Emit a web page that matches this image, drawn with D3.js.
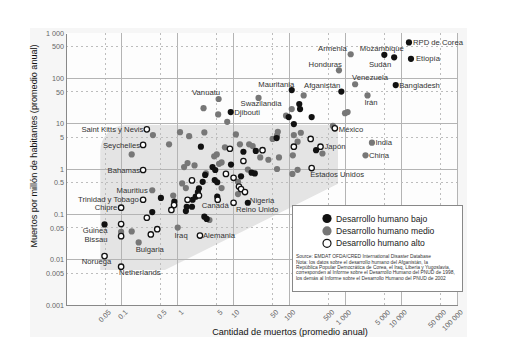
<!DOCTYPE html>
<html>
<head>
<meta charset="utf-8">
<script src="https://cdn.jsdelivr.net/npm/d3@7"></script>
<style>
  body { margin: 0; background: #fff; }
  svg { display: block; font-family: "Liberation Sans", Arial, sans-serif; }
</style>
</head>
<body>
<svg id="chart" width="517" height="353"></svg>
<script>
// niveles de desarrollo humano (leyenda)
const levels = ["Desarrollo humano bajo", "Desarrollo humano medio", "Desarrollo humano alto"];

// países con etiqueta: nombre, nivel (0 bajo, 1 medio, 2 alto), muertos/año, muertos por millón/año
const namedCountries = ["RPD de Corea", "Etiopía", "Mozambique", "Sudán", "Armenia", "Honduras",
  "Venezuela", "Bangladesh", "Irán", "Mauritania", "Afganistán", "Vanuatu", "Swazilandia",
  "Djibouti", "México", "India", "China", "Japón", "Estados Unidos", "Saint Kitts y Nevis",
  "Seychelles", "Bahamas", "Mauritius", "Trinidad y Tobago", "Chipre", "Guinea\nBissau",
  "Bulgaria", "Noruega", "Netherlands", "Iraq", "Alemania", "Canadá", "Reino Unido", "Nigeria"];
const namedLevel = [0, 0, 0, 0, 1, 1, 1, 0, 1, 0, 0, 1, 1, 0, 2, 1, 1, 2, 2, 2, 2, 2, 1, 2, 2, 0,
  1, 2, 2, 1, 2, 2, 2, 0];
const namedDeaths = [13800, 15000, 5000, 7500, 1250, 770, 1500, 8000, 2500, 110, 850, 5.4, 28,
  8.9, 650, 3000, 2300, 360, 250, 0.28, 0.24, 0.24, 0.35, 0.24, 0.097, 0.049, 0.2, 0.049, 0.097,
  1.0, 2.5, 5.2, 10, 18];
const namedRate = [620, 270, 330, 290, 340, 150, 74, 71, 42, 55, 51, 35, 37, 18, 7.9, 3.8, 2.0,
  3.1, 1.05, 7.5, 3.4, 0.95, 0.34, 0.21, 0.14, 0.06, 0.024, 0.012, 0.007, 0.051, 0.034, 0.21,
  0.18, 0.18];

// resto de países, [muertos, muertos por millón]
const lowOther = [[150, 27], [155, 21], [97, 14], [250, 14], [120, 9.8], [59, 4.8], [2.6, 3.1],
  [15, 2.4], [25, 2.5], [300, 2.6], [4.2, 1.1], [4.7, 0.95], [9.0, 1.25], [21, 0.83], [24, 0.8],
  [13.6, 0.69], [2.8, 0.52], [4.6, 0.57], [5.1, 0.51], [2.4, 0.375], [2.3, 0.31], [2.1, 0.245],
  [1.85, 0.21], [0.5, 0.23], [0.87, 0.19], [1.45, 0.147], [1.4, 0.118], [1.8, 0.147],
  [0.35, 0.112], [3.0, 0.089], [3.3, 0.079], [5.1, 0.245], [3.1, 0.74]];
const midOther = [[180, 42], [2.9, 22], [5.3, 16], [7.7, 11], [110, 21], [87, 15], [600, 8.9],
  [990, 17], [1100, 18], [1.1, 6.5], [1.6, 5.3], [3.0, 6.4], [11, 5.8], [62, 6.6], [60, 5.5],
  [50, 4.6], [120, 5.6], [160, 6.3], [140, 4.0], [7.0, 3.0], [13, 3.5], [19, 3.5], [22, 3.2],
  [30, 1.8], [42, 1.6], [65, 1.8], [115, 2.0], [390, 2.2], [4.5, 1.9], [5.0, 2.1], [1.3, 1.1],
  [1.5, 1.35], [2.0, 1.2], [5.5, 1.3], [6.1, 1.4], [60, 1.0], [140, 0.96], [113, 0.78],
  [3.2, 0.8], [0.36, 5.6], [0.15, 2.1], [0.7, 3.5], [1.2, 0.48], [1.4, 0.38], [0.83, 0.26],
  [6.1, 0.38], [12, 0.28], [18, 0.97], [12, 0.52], [3.7, 0.075], [0.15, 0.042], [0.097, 0.041]];
const highOther = [[240, 4.6], [8.6, 2.8], [33, 2.6], [120, 3.1], [15, 1.5], [7.3, 0.78],
  [1.8, 0.56], [10, 0.64], [12.5, 0.41], [13.6, 0.36], [16, 0.31], [2.4, 0.26], [1.5, 0.21],
  [0.86, 0.16], [0.77, 0.125], [0.28, 0.084], [0.097, 0.061], [0.097, 0.033], [0.43, 0.047],
  [0.33, 0.036]];

// zona sombreada (muertos, muertos por millón)
const bandCorners = [[0.041, 0.0059], [0.041, 9.3], [740, 9.3], [740, 0.47], [0.59, 0.0059]];

const xTickValues = [0.05, 0.1, 0.5, 1, 5, 10, 50, 100, 500, 1000, 5000, 10000, 50000, 100000];
const yTickValues = [0.001, 0.005, 0.01, 0.05, 0.1, 0.5, 1, 5, 10, 50, 100, 500, 1000];
const xDecades = [0.1, 1, 10, 100, 1000, 10000, 100000];
const xFives = [0.05, 0.5, 5, 50, 500, 5000, 50000];
const yDecades = [0.01, 0.1, 1, 10, 100];
const yFives = [0.005, 0.05, 0.5, 5, 50, 500];

const noteLines = [
  "Source: EMDAT OFDA/CRED International Disaster Database",
  "Nota: los datos sobre el desarrollo humano del Afganistán, la",
  "República Popular Democrática de Corea, el Iraq, Liberia y Yugoslavia,",
  "corresponden al Informe sobre el Desarrollo Humano del PNUD de 1998,",
  "los demás al Informe sobre el Desarrollo Humano del PNUD de 2002"
];

// colocación de etiquetas: dx, dy, anclaje
const labelPlace = {
  "RPD de Corea": [4, 0, "start"], "Etiopía": [5, 0, "start"], "Mozambique": [-2.5, -6.5, "middle"],
  "Sudán": [-3, 7, "end"], "Armenia": [-4, -6, "end"], "Honduras": [3, -6.5, "end"],
  "Venezuela": [-3, -6.5, "start"], "Bangladesh": [3.5, 0, "start"], "Irán": [3.5, 7, "middle"],
  "Mauritania": [2.5, -6, "end"], "Afganistán": [-1, -6, "end"], "Vanuatu": [1.5, -6.3, "end"],
  "Swazilandia": [2.5, 5.5, "middle"], "Djibouti": [3.5, 0, "start"], "México": [4, 0.5, "start"],
  "India": [3.5, 0, "start"], "China": [3.5, 0, "start"], "Japón": [4, 0, "start"],
  "Estados Unidos": [-1.5, 6.7, "start"], "Saint Kitts y Nevis": [-3.5, 0, "end"],
  "Seychelles": [-3, 0, "end"], "Bahamas": [-3, 0, "end"], "Mauritius": [-4.5, 0, "end"],
  "Trinidad y Tobago": [-4.4, 0, "end"], "Chipre": [-3.7, 0, "end"], "Guinea\nBissau": [3, 6, "end"],
  "Bulgaria": [-3, 7, "start"], "Noruega": [6.7, 5, "end"], "Netherlands": [-2, 6, "start"],
  "Iraq": [-3.3, 7.3, "start"], "Alemania": [3, 0, "start"], "Canadá": [-2.5, 6, "middle"],
  "Reino Unido": [2.4, 7, "start"], "Nigeria": [2, -2.5, "start"]
};

const svg = d3.select("#chart");
const x = d3.scaleLog().domain([0.01, 100000]).range([66, 457]);
const y = d3.scaleLog().domain([0.001, 1000]).range([305, 33]);

// fondo
svg.append("rect").attr("x", 30).attr("y", 28).attr("width", 437).attr("height", 309).attr("fill", "#f6f6f6");
svg.append("rect").attr("x", 66).attr("y", 33).attr("width", 391).attr("height", 272).attr("fill", "#fdfdfd");

// zona sombreada, esquina superior izquierda redondeada
const bp = bandCorners.map(d => [x(d[0]), y(d[1])]);
const band = d3.path();
band.moveTo(bp[0][0], bp[0][1]);
band.arcTo(bp[1][0], bp[1][1], bp[2][0], bp[2][1], 26);
for (let i = 2; i < bp.length; i++) band.lineTo(bp[i][0], bp[i][1]);
band.closePath();
svg.append("path").attr("d", band.toString()).attr("fill", "#e4e4e4");

// rejilla
const grid = svg.append("g");
grid.selectAll(".vd").data(xDecades).join("line")
  .attr("x1", d => x(d)).attr("x2", d => x(d)).attr("y1", 33).attr("y2", 305)
  .attr("stroke", "#b4b4b4").attr("stroke-width", 1);
grid.selectAll(".vf").data(xFives).join("line")
  .attr("x1", d => x(d)).attr("x2", d => x(d)).attr("y1", 33).attr("y2", 305)
  .attr("stroke", "#bdbdbd").attr("stroke-dasharray", "2,3");
grid.selectAll(".hd").data(yDecades).join("line")
  .attr("y1", d => y(d)).attr("y2", d => y(d)).attr("x1", 66).attr("x2", 457)
  .attr("stroke", "#b4b4b4");
grid.selectAll(".hf").data(yFives).join("line")
  .attr("y1", d => y(d)).attr("y2", d => y(d)).attr("x1", 66).attr("x2", 457)
  .attr("stroke", "#bdbdbd").attr("stroke-dasharray", "2,3");
grid.selectAll("line").attr("shape-rendering", "crispEdges");

const fmt = v => v >= 1000 ? d3.format(",")(v).replace(/,/g, " ") : String(v);

// ejes
const xAxis = svg.append("g").attr("transform", "translate(0,305)")
  .call(d3.axisBottom(x).tickValues(xTickValues).tickFormat(fmt).tickSize(0).tickPadding(0));
xAxis.select(".domain").attr("stroke", "#888").attr("shape-rendering", "crispEdges");
xAxis.selectAll("text")
  .attr("y", 0).attr("dy", "0.35em")
  .attr("transform", "translate(4,6) rotate(-45)")
  .attr("text-anchor", "end")
  .attr("font-size", 7.2).attr("fill", "#666").attr("font-family", null);

const yAxis = svg.append("g").attr("transform", "translate(66,0)")
  .call(d3.axisLeft(y).tickValues(yTickValues).tickFormat(fmt).tickSize(0).tickPadding(2));
yAxis.select(".domain").attr("stroke", "#888").attr("shape-rendering", "crispEdges");
yAxis.selectAll("text").attr("font-size", 7.2).attr("fill", "#666").attr("font-family", null);

// títulos de ejes
svg.append("text").attr("transform", "translate(37,146) rotate(-90)")
  .attr("text-anchor", "middle").attr("font-size", 9.1).attr("fill", "#111")
  .text("Muertos por millón de habitantes (promedio anual)");
svg.append("text").attr("x", 290).attr("y", 335)
  .attr("text-anchor", "middle").attr("font-size", 9.1).attr("fill", "#111")
  .text("Cantidad de muertos (promedio anual)");

// puntos
const fills = ["#111", "#777", "#fff"];
function dots(data, lv) {
  svg.append("g").selectAll("circle").data(data).join("circle")
    .attr("cx", d => x(d[0])).attr("cy", d => y(d[1]))
    .attr("r", lv === 2 ? 2.7 : 3.1)
    .attr("fill", fills[lv])
    .attr("stroke", lv === 2 ? "#111" : "none")
    .attr("stroke-width", 1.3);
}
dots(midOther, 1);
dots(lowOther, 0);
dots(highOther, 2);
[0, 1, 2].forEach(lv => {
  const pts = namedCountries.map((n, i) => [namedDeaths[i], namedRate[i], namedLevel[i]])
    .filter(d => d[2] === lv);
  dots(pts, lv);
});

// etiquetas
const labels = svg.append("g").attr("font-size", 7.7).attr("fill", "#333");
namedCountries.forEach((name, i) => {
  const p = labelPlace[name];
  const t = labels.append("text")
    .attr("x", x(namedDeaths[i]) + p[0]).attr("y", y(namedRate[i]) + p[1])
    .attr("dy", "0.35em").attr("text-anchor", p[2]);
  name.split("\n").forEach((part, k) => {
    t.append("tspan").attr("x", x(namedDeaths[i]) + p[0])
      .attr("dy", k === 0 ? "0.35em" : "1.15em").text(part);
  });
});

// leyenda
const lg = svg.append("g");
lg.append("rect").attr("x", 292.5).attr("y", 205.5).attr("width", 170).attr("height", 86)
  .attr("fill", "#fff").attr("stroke", "#888");
levels.forEach((name, i) => {
  lg.append("circle").attr("cx", 327).attr("cy", 218.5 + i * 12.4).attr("r", i === 2 ? 4 : 4.6)
    .attr("fill", fills[i]).attr("stroke", i === 2 ? "#111" : "none").attr("stroke-width", 1.2);
  lg.append("text").attr("x", 336).attr("y", 218.5 + i * 12.4).attr("dy", "0.35em")
    .attr("font-size", 8.6).attr("fill", "#1a1a1a").text(name);
});
lg.selectAll(".note").data(noteLines).join("text")
  .attr("x", 296).attr("y", (d, i) => 256.5 + i * 5.4).attr("dy", "0.35em")
  .attr("font-size", 4.9).attr("fill", "#333").text(d => d);
</script>
</body>
</html>
